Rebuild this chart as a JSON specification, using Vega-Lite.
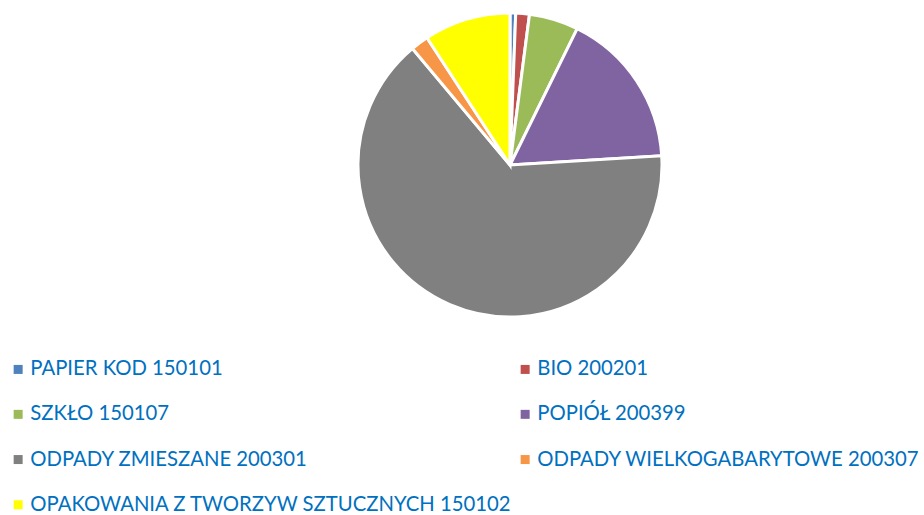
{
  "$schema": "https://vega.github.io/schema/vega-lite/v6.json",
  "width": 828,
  "height": 330,
  "autosize": {"type": "none"},
  "padding": {"left": 96, "top": 0, "right": 0, "bottom": 185},
  "background": "white",
  "view": {"stroke": null},
  "data": {
    "values": [
      {"kategoria": "PAPIER  KOD 150101", "udzial": 0.6, "kolejnosc": 1},
      {"kategoria": "BIO 200201", "udzial": 1.45, "kolejnosc": 2},
      {"kategoria": "SZKŁO 150107", "udzial": 5.24, "kolejnosc": 3},
      {"kategoria": "POPIÓŁ 200399", "udzial": 16.75, "kolejnosc": 4},
      {"kategoria": "ODPADY ZMIESZANE 200301", "udzial": 64.85, "kolejnosc": 5},
      {"kategoria": "ODPADY WIELKOGABARYTOWE 200307", "udzial": 1.9, "kolejnosc": 6},
      {"kategoria": "OPAKOWANIA Z TWORZYW SZTUCZNYCH 150102", "udzial": 9.2, "kolejnosc": 7}
    ]
  },
  "mark": {"type": "arc", "radius": 152, "stroke": "white", "strokeWidth": 3},
  "encoding": {
    "theta": {"field": "udzial", "type": "quantitative", "stack": true},
    "order": {"field": "kolejnosc", "type": "quantitative"},
    "color": {
      "field": "kategoria",
      "type": "nominal",
      "scale": {
        "domain": ["PAPIER  KOD 150101", "SZKŁO 150107", "ODPADY ZMIESZANE 200301", "OPAKOWANIA Z TWORZYW SZTUCZNYCH 150102", "BIO 200201", "POPIÓŁ 200399", "ODPADY WIELKOGABARYTOWE 200307"],
        "range": ["#4F81BD", "#9BBB59", "#808080", "#FFFF00", "#C0504D", "#8064A2", "#F79646"]
      },
      "legend": {
        "title": null,
        "orient": "none",
        "legendX": -88,
        "legendY": 359,
        "columns": 2,
        "columnPadding": 2,
        "rowPadding": 24.2,
        "symbolType": "square",
        "symbolSize": 81,
        "symbolStrokeWidth": 0,
        "symbolOffset": 0,
        "labelFont": "Lato",
        "labelFontSize": 20.3,
        "labelColor": "#0070C0",
        "labelOffset": 2,
        "labelLimit": 700
      }
    }
  }
}
